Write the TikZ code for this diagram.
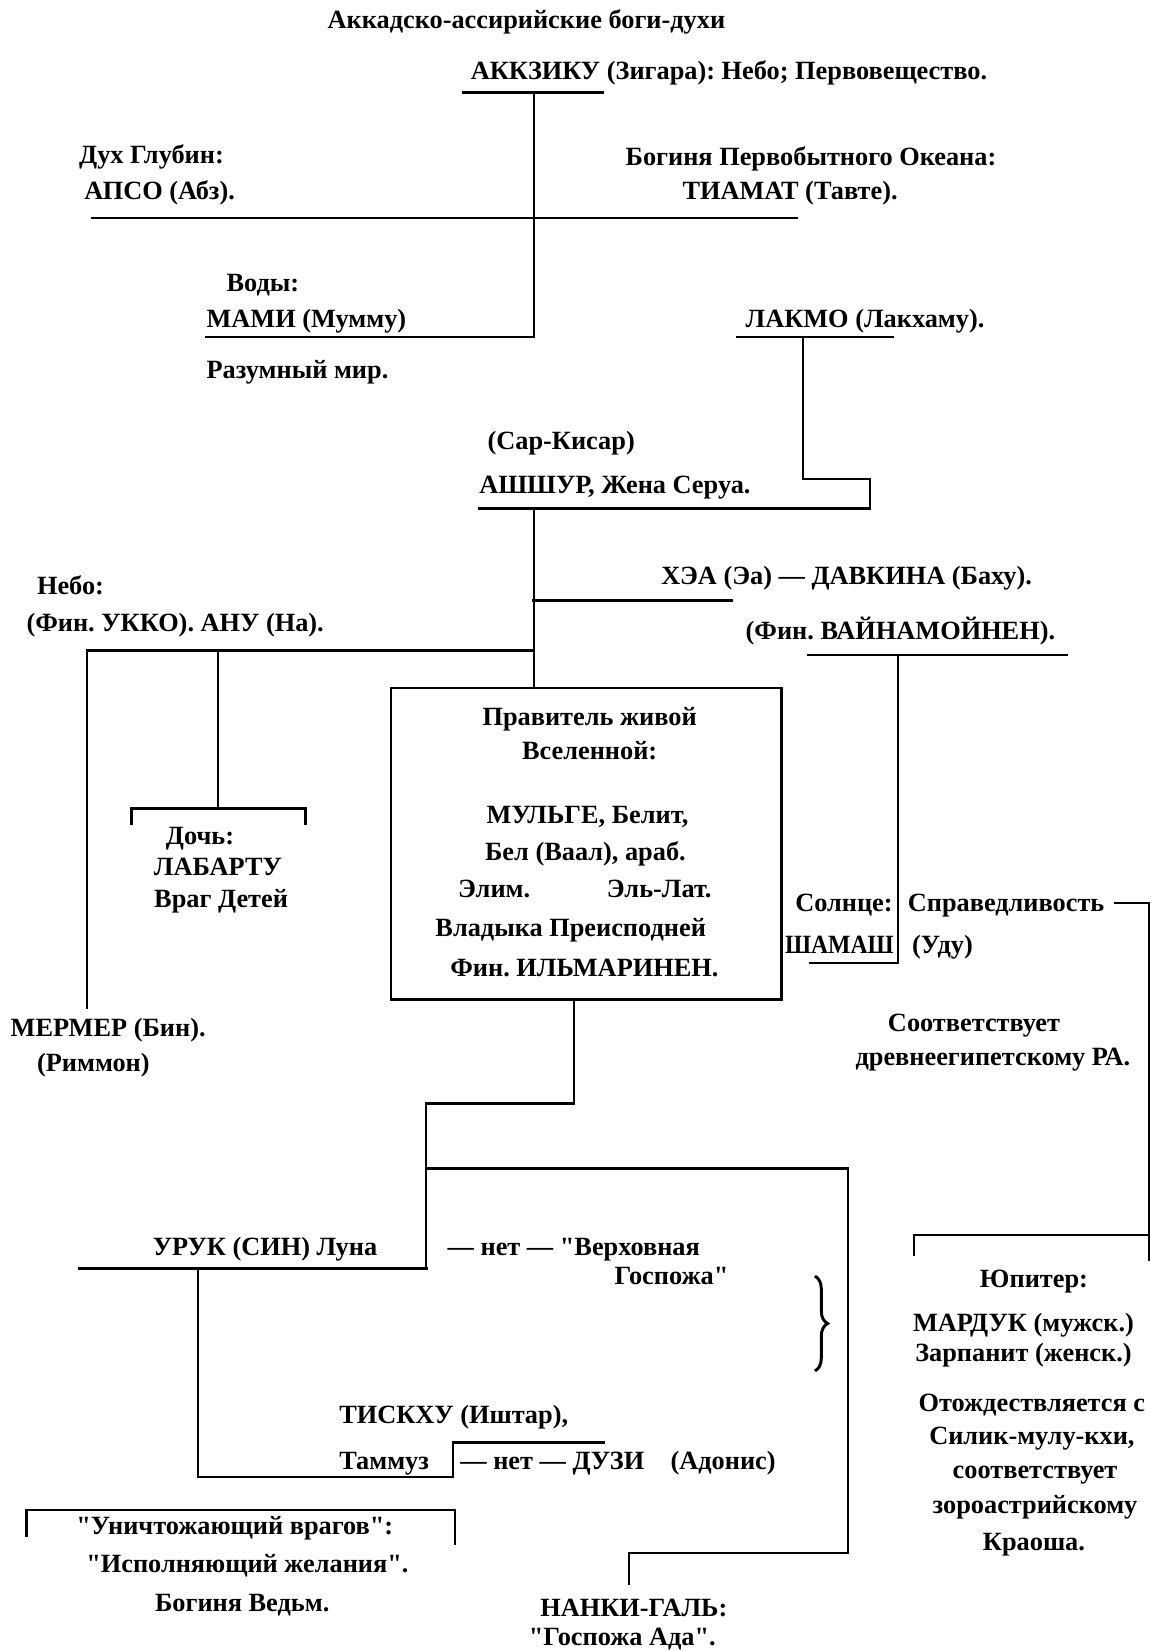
\documentclass[tikz,border=0pt]{standalone}
\usepackage{fontspec}
\setmainfont{Liberation Serif}[Ligatures=TeXOff]
\usetikzlibrary{decorations.pathreplacing}
\newcommand{\qt}{"}
\begin{document}
\frenchspacing
\begin{tikzpicture}[x=1pt,y=-1pt,
  t/.style={inner sep=0pt, font=\fontsize{25}{30}\selectfont\bfseries, text height=0.66em, text depth=0pt, yshift=-4pt},
  tl/.style={t, anchor=west},
  tr/.style={t, anchor=east},
  ln/.style={line width=2pt},
  ul/.style={line width=2.6pt, line cap=rect}]
\useasboundingbox[fill=white] (0,0) rectangle (1093,1568);

% --- top ---
\node[t] (title) at (500,20) {Аккадско-ассирийские боги-духи};
\node[tl] (akk) at (447,68) {АККЗИКУ (Зигара): Небо; Первовещество.};
\coordinate (akkL) at (440,88); \coordinate (akkR) at (572,88);
\coordinate (akkJ) at (507,88);
\draw[ul] (akkL) -- (akkR);

\node[tl] (duh) at (75,148) {Дух Глубин:};
\node[tl] (apso) at (80,182) {АПСО (Абз).};
\node[tl] (bog) at (594,150) {Богиня Первобытного Океана:};
\node[tl] (tiam) at (648,182) {ТИАМАТ (Тавте).};
\coordinate (deepL) at (88,207); \coordinate (deepR) at (757,207);
\draw[ul] (deepL) -- (deepR);

\node[tl] (vody) at (215,270) {Воды:};
\node[tl] (mami) at (196,304) {МАМИ (Мумму)};
\node[tl] (razum) at (196,352) {Разумный мир.};
\coordinate (mamiL) at (196,320); \coordinate (mamiJ) at (507,320);
\draw[ul] (mamiL) -- (mamiJ);
\draw[ln] (akkJ) -- (mamiJ);

\node[tl] (lakmo) at (708,304) {ЛАКМО (Лакхаму).};
\coordinate (lakL) at (700,320); \coordinate (lakR) at (848,320);
\coordinate (lakJ) at (763,320);
\draw[ul] (lakL) -- (lakR);

\node[t] (sar) at (533,420) {(Сар-Кисар)};
\node[tl] (ashur) at (455,461) {АШШУР, Жена Серуа.};
\coordinate (ashL) at (455,483); \coordinate (ashR) at (826,483);
\coordinate (ashJ) at (507,483);
\draw[ul] (ashL) -- (ashR);
\draw[ln] (lakJ) -- (763,455) -- (826,455) -- (ashR);

% --- HEA ---
\node[tl] (hea) at (628,548) {ХЭА (Эа) — ДАВКИНА (Баху).};
\coordinate (heaJ) at (507,570); \coordinate (heaR) at (695,570);
\draw[ul] (heaJ) -- (heaR);
\node[tl] (vain) at (708,600) {(Фин. ВАЙНАМОЙНЕН).};
\coordinate (vainL) at (768,622); \coordinate (vainR) at (1013,622);
\coordinate (vainJ) at (853,622);
\draw[ul] (vainL) -- (vainR);

% --- ANU ---
\node[tl] (nebo) at (35,557) {Небо:};
\node[tl] (anu) at (25,592) {(Фин. УККО). АНУ (На).};
\coordinate (anuL) at (83,618); \coordinate (anuJ) at (507,618);
\coordinate (anuM) at (207,618);
\draw[ul] (anuL) -- (anuJ);
\draw[ln] (anuL) -- (83,958);
\draw[ln] (anuM) -- (207,768);
\draw[ul] (125,782) -- (125,768) -- (290,768) -- (290,782);
\node[t] (doch) at (190,795) {Дочь:};
\node[t] (labartu) at (207,824) {ЛАБАРТУ};
\node[t] (vrag) at (210,855) {Враг Детей};
\node[tl] (mermer) at (10,977) {МЕРМЕР (Бин).};
\node[tl] (rimmon) at (35,1010) {(Риммон)};

% --- central box ---
\node[draw, line width=2.2pt, minimum width=371pt, minimum height=296pt, anchor=north west, inner sep=0pt] (box) at (370,652) {};
\draw[ln] (ashJ) -- (box.north -| ashJ);
\node[t] (b1) at (560,682) {Правитель живой};
\node[t] (b2) at (560,714) {Вселенной:};
\node[t] (b3) at (558,775) {МУЛЬГЕ, Белит,};
\node[t] (b4) at (556,810) {Бел (Ваал), араб.};
\node[tl] (b5) at (435,845) {Элим.};
\node[tr] (b6) at (676,845) {Эль-Лат.};
\node[t] (b7) at (542,882) {Владыка Преисподней};
\node[t] (b8) at (555,920) {Фин. ИЛЬМАРИНЕН.};

% --- SHAMASH ---
\node[tr] (sol) at (848,858) {Солнце:};
\node[tr] (shamash) at (849,898) {\scalebox{0.9}[1]{ШАМАШ}};
\node[tl] (sprav) at (862,858) {Справедливость};
\node[tl] (udu) at (866,898) {(Уду)};
\coordinate (shL) at (768,915);
\draw[ln] (vainJ) -- (853,915) -- (shL);
\coordinate (justL) at (1058,858); \coordinate (justR) at (1091,858);
\draw[ln] (justL) -- (justR) -- (1091,1198);
\node[t] (sootv) at (925,972) {Соответствует};
\node[t] (egypt) at (943,1005) {древнеегипетскому РА.};

% --- MARDUK ---
\coordinate (jupL) at (868,1173); \coordinate (jupR) at (1091,1173);
\draw[ul] (868,1192) -- (jupL) -- (jupR);
\node[t] (jup) at (982,1215) {Юпитер:};
\node[t] (marduk) at (972,1257) {МАРДУК (мужск.)};
\node[t] (zarp) at (972,1286) {Зарпанит (женск.)};
\node[t] (otozh) at (980,1333) {Отождествляется с};
\node[t] (silik) at (980,1365) {Силик-мулу-кхи,};
\node[t] (sootv2) at (983,1397) {соответствует};
\node[t] (zoro) at (983,1430) {зороастрийскому};
\node[t] (kraosha) at (982,1465) {Краоша.};
\draw[line width=2.8pt, decorate, decoration={brace, amplitude=12pt}] (774,1212) -- (774,1302);

% --- below box ---
\coordinate (boxJ) at (545,948);
\coordinate (j1) at (405,1110);
\draw[ln] (boxJ) -- (545,1048) -- (405,1048) -- (405,1205);
\draw[ul] (j1) -- (805,1110);
\draw[ln] (805,1110) -- (805,1475) -- (597,1475) -- (597,1505);

\node[tl] (uruk) at (145,1185) {УРУК (СИН) Луна};
\coordinate (urukL) at (75,1205); \coordinate (urukR) at (405,1205);
\draw[ul] (urukL) -- (urukR);
\node[tl] (verh) at (425,1185) {— нет — \qt Верховная};
\node[tr] (gosp) at (692,1213) {Госпожа\qt};

\coordinate (urukJ) at (188,1205);
\draw[ln] (urukJ) -- (188,1403) -- (430,1403) -- (430,1370) -- (575,1370);
\node[tl] (tiskhu) at (322,1345) {ТИСКХУ (Иштар),};
\node[tl] (tammuz) at (322,1388) {Таммуз};
\node[tl] (duzi) at (437,1388) {— нет — ДУЗИ\hspace{1em}(Адонис)};

\draw[ul] (25,1458) -- (25,1434) -- (432,1434) -- (432,1466);
\node[t] (unich) at (223,1450) {\qt Уничтожающий врагов\qt:};
\node[t] (ispoln) at (235,1486) {\qt Исполняющий желания\qt.};
\node[t] (vedm) at (230,1523) {Богиня Ведьм.};

\node[t] (nanki) at (602,1528) {НАНКИ-ГАЛЬ:};
\node[t] (ada) at (591,1555) {\qt Госпожа Ада\qt.};
\end{tikzpicture}
\end{document}
